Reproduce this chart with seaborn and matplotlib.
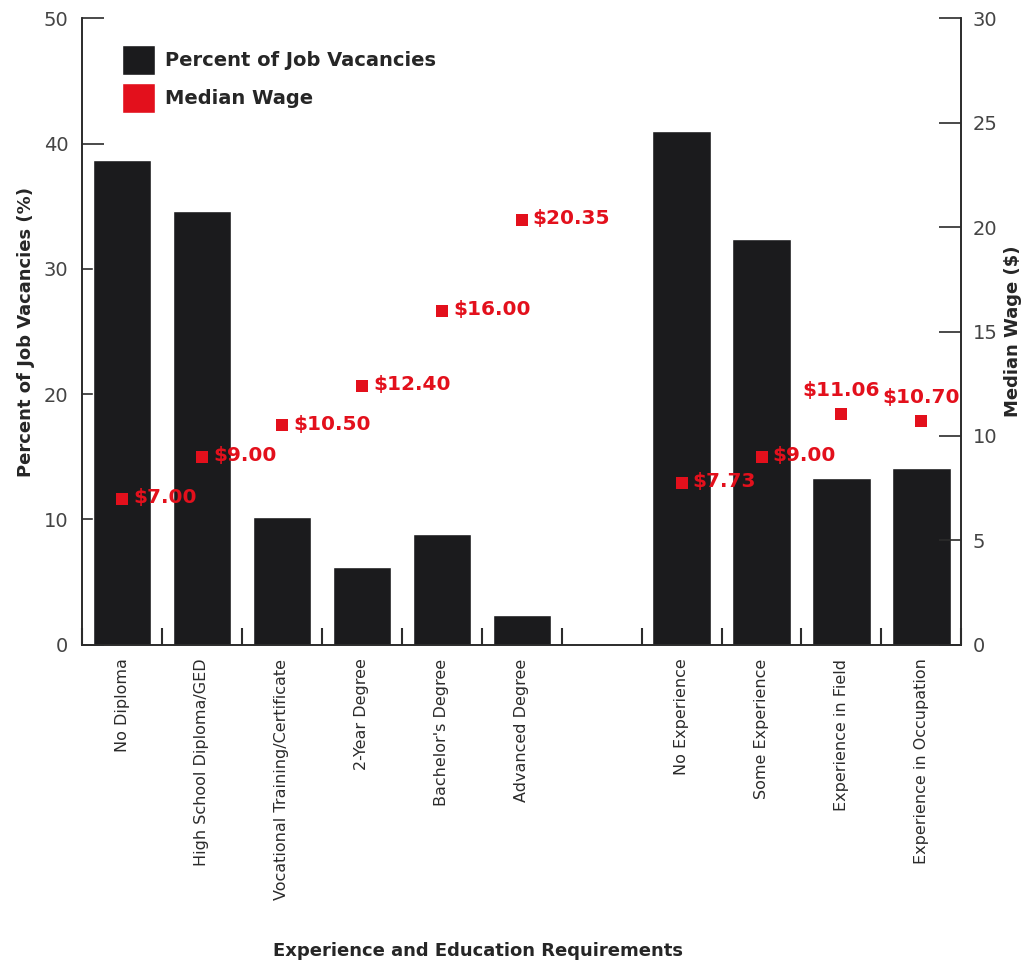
import pandas as pd
import matplotlib
matplotlib.use("Agg")
import matplotlib.pyplot as plt
import seaborn as sns
from matplotlib.patches import Patch

# chart values
categories = ["No Diploma", "High School Diploma/GED", "Vocational Training/Certificate",
              "2-Year Degree", "Bachelor's Degree", "Advanced Degree",
              "No Experience", "Some Experience", "Experience in Field",
              "Experience in Occupation"]
vacancy_pct = [38.7, 34.6, 10.2, 6.2, 8.8, 2.4, 41.0, 32.4, 13.3, 14.1]
median_wage = [7.00, 9.00, 10.50, 12.40, 16.00, 20.35, 7.73, 9.00, 11.06, 10.70]
wage_labels = ["$7.00", "$9.00", "$10.50", "$12.40", "$16.00", "$20.35",
               "$7.73", "$9.00", "$11.06", "$10.70"]
label_above = ["Experience in Field", "Experience in Occupation"]

# blank slot between education and experience groups
order = categories[:6] + [" "] + categories[6:]

BAR = "#1b1b1d"
RED = "#e3101c"
INK = "#2b2b2b"

df = pd.DataFrame({"category": categories, "pct": vacancy_pct, "wage": median_wage,
                   "label": wage_labels})
df["pos"] = [order.index(c) for c in df["category"]]

sns.set_style("white")
plt.rcParams["font.family"] = ["DejaVu Sans"]

fig = plt.figure(figsize=(10.26, 9.68), dpi=100)
ax = fig.add_axes([0.08, 0.334, 0.857, 0.647])

sns.barplot(data=df, x="category", y="pct", order=order, color=BAR,
            saturation=1, width=0.73, ax=ax)
ax.set_xlim(-0.5, len(order) - 0.5)
ax.set_ylim(0, 50)
ax.set_yticks(range(0, 51, 10))

ax2 = ax.twinx()
sns.scatterplot(data=df, x="pos", y="wage", marker="s", s=75, color=RED,
                edgecolor="none", ax=ax2, zorder=5)
ax2.set_ylim(0, 30)
ax2.set_yticks(range(0, 31, 5))

for _, r in df.iterrows():
    if r["category"] in label_above:
        ax2.annotate(r["label"], (r["pos"], r["wage"]), xytext=(0, 10),
                     textcoords="offset points", ha="center", va="bottom",
                     color=RED, fontsize=14.5, fontweight="bold")
    else:
        ax2.annotate(r["label"], (r["pos"], r["wage"]), xytext=(8, 1),
                     textcoords="offset points", ha="left", va="center",
                     color=RED, fontsize=14.5, fontweight="bold")

# spines and ticks
for a in (ax, ax2):
    a.spines["top"].set_visible(False)
    for s in ("left", "right", "bottom"):
        a.spines[s].set_color(INK)
        a.spines[s].set_linewidth(1.2)

ax.tick_params(axis="y", direction="in", length=16, width=1.2, labelsize=14,
               pad=10, left=True, color=INK, labelcolor="#444444")
ax2.tick_params(axis="y", direction="in", length=16, width=1.2, labelsize=14,
                pad=8, right=True, color=INK, labelcolor="#444444")
ax.set_xticks(range(len(order)))
ax.set_xticklabels(order, rotation=90, fontsize=11.5, color=INK)
ax.tick_params(axis="x", which="major", length=0, pad=10)
ax.set_xticks([i + 0.5 for i in range(-1, len(order))], minor=True)
ax.tick_params(axis="x", which="minor", direction="in", length=12, width=1.5,
               bottom=True, color=INK)

ax.set_ylabel("Percent of Job Vacancies (%)", fontsize=13, fontweight="bold",
              labelpad=6)
ax2.set_ylabel("Median Wage ($)", fontsize=13, fontweight="bold", labelpad=5)
ax.set_xlabel("Experience and Education Requirements", fontsize=13,
              fontweight="bold")
ax.xaxis.set_label_coords(0.45, -0.475)

handles = [Patch(facecolor=BAR, label="Percent of Job Vacancies"),
           Patch(facecolor=RED, label="Median Wage")]
ax.legend(handles=handles, loc="upper left", bbox_to_anchor=(0.025, 0.985),
          frameon=False, handlelength=1.7, handleheight=1.95,
          handletextpad=0.55, labelspacing=0.45,
          prop={"size": 14, "weight": "bold"})

fig.savefig("out.png", dpi=100)
